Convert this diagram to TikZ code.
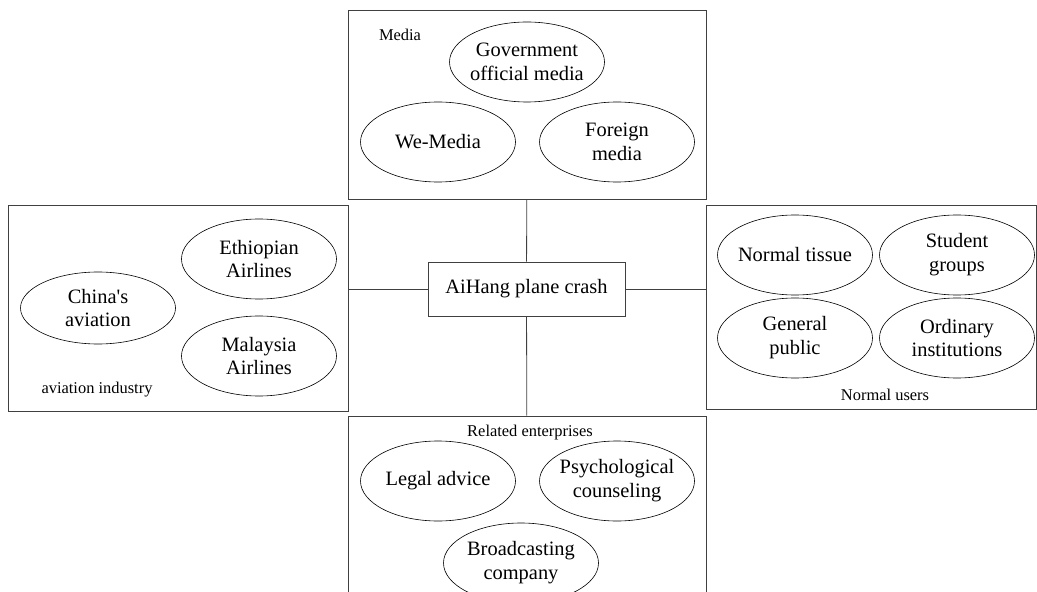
\documentclass[tikz,border=0pt]{standalone}
\usepackage{fontspec}
\setmainfont{Liberation Serif}
\usepackage{tikz}
\usetikzlibrary{shapes.geometric,positioning}
\newcommand{\bigtxt}{\fontsize{20.5}{24}\selectfont}
\newcommand{\smalltxt}{\fontsize{16.5}{19}\selectfont}

\begin{document}
\begin{tikzpicture}[x=1bp,y=-1bp,
  grp/.style={draw=black!75,line width=0.8bp,inner sep=0pt},
  oval/.style={draw,ellipse,line width=0.6bp,inner xsep=-15bp,inner ysep=-5bp,minimum width=155bp,minimum height=80bp,align=center,font=\bigtxt},
  lbl/.style={font=\smalltxt,inner sep=0pt}]
\useasboundingbox (0,0) rectangle (1037,592);
\clip (0,0) rectangle (1037,592);
% groups
\node[grp,minimum width=358bp,minimum height=189bp] (media) at (527,104.5) {};
\node[grp,minimum width=340bp,minimum height=206bp] (aviation) at (178,308) {};
\node[grp,minimum width=330bp,minimum height=204bp] (users) at (871,307) {};
\node[grp,minimum width=358bp,minimum height=204bp] (firms) at (527,518) {};
\node[grp,minimum width=197bp,minimum height=54bp,font=\bigtxt] (crash) at (526.5,289) {AiHang plane crash};
% media
\node[lbl] (mediaL) at (400,35) {Media};
\node[oval] (gov) at (527,62) {Government\\official media};
\node[oval] (we) at (438,142) {We-Media};
\node[oval] (foreign) at (617,142) {Foreign\\media};
% aviation industry
\node[oval] (ethio) at (259,259) {Ethiopian\\Airlines};
\node[oval,minimum height=72bp] (china) at (98,308) {China\textquotesingle s\\aviation};
\node[oval] (malay) at (259,356) {Malaysia\\Airlines};
\node[lbl] (aviationL) at (97,390) {aviation industry};
% normal users
\node[oval] (tissue) at (795,255) {Normal tissue};
\node[oval] (student) at (957,255) {Student\\groups};
\node[oval] (public) at (795,338) {General\\public};
\node[oval] (ordinary) at (957,338) {Ordinary\\institutions};
\node[lbl] (usersL) at (885,395) {Normal users};
% related enterprises
\node[lbl] (firmsL) at (530,433) {Related enterprises};
\node[oval] (legal) at (438,481) {Legal advice};
\node[oval] (psych) at (617,481) {Psychological\\counseling};
\node[oval] (broad) at (521,563) {Broadcasting\\company};
% links
\path[draw=black!75,line width=0.8bp]
(media) edge (crash)
(crash) edge (firms)
(crash.west) edge (crash.west -| aviation.east)
(crash.east) edge (crash.east -| users.west);
\end{tikzpicture}
\end{document}
